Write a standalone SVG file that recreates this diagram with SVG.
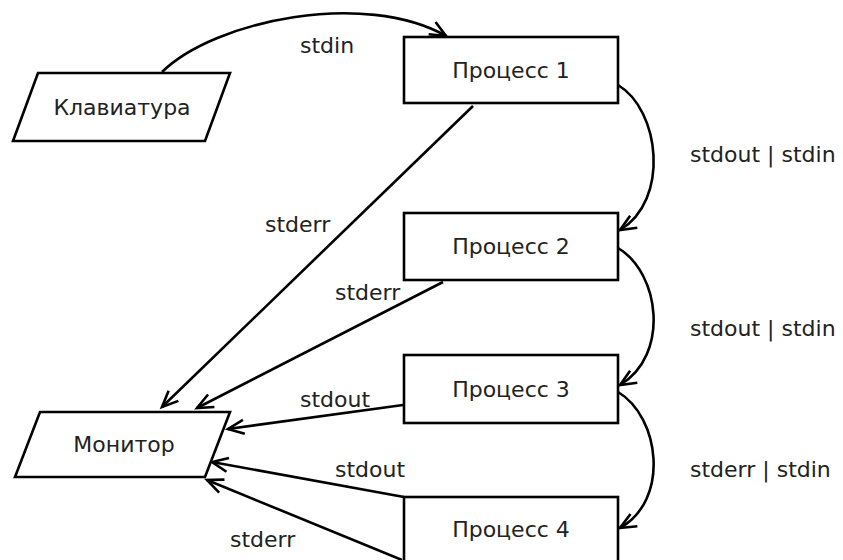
<svg xmlns="http://www.w3.org/2000/svg" width="843" height="560" viewBox="0 0 843 560">
<defs>
<style>
.box{fill:#fff;stroke:#000;stroke-width:2.6}
.t{font-family:"DejaVu Sans",sans-serif;font-size:22px;fill:#222}
.c{text-anchor:middle}
.e{fill:none;stroke:#000;stroke-width:2.6;marker-end:url(#arr)}
</style>
<marker id="arr" markerUnits="userSpaceOnUse" markerWidth="40" markerHeight="40" refX="0" refY="0" viewBox="-20 -20 40 40" orient="auto" overflow="visible">
<path d="M-16,-7 L0,0 L-16,7" fill="none" stroke="#000" stroke-width="2.6"/>
</marker>
</defs>
<rect width="843" height="560" fill="#fff"/>
<g id="edges">
<path class="e" d="M162,72 C215,20 365,-10 446,36"/>
<path class="e" d="M618,85 C660,110 670,200 620,230"/>
<path class="e" d="M618,248 C660,273 670,355 620,385"/>
<path class="e" d="M618,392 C660,417 670,500 620,528"/>
<path class="e" d="M473,106 L162,407"/>
<path class="e" d="M443,282 L197,408"/>
<path class="e" d="M403,405 L228,429"/>
<path class="e" d="M404,497 L212,462"/>
<path class="e" d="M402,560 L207,480"/>
</g>
<g id="labels">
<text class="t" x="300" y="53">stdin</text>
<text class="t" x="690" y="162">stdout | stdin</text>
<text class="t" x="690" y="336">stdout | stdin</text>
<text class="t" x="690" y="477">stderr | stdin</text>
<text class="t" x="265" y="232">stderr</text>
<text class="t" x="335" y="300">stderr</text>
<text class="t" x="300" y="407">stdout</text>
<text class="t" x="335" y="477">stdout</text>
<text class="t" x="230" y="547">stderr</text>
</g>
<g id="keyboard">
<polygon class="box" points="38,73 230,73 205,141 13,141"/>
<text class="t c" x="122" y="115">Клавиатура</text>
</g>
<g id="monitor">
<polygon class="box" points="40,412 230,412 205,477 15,477"/>
<text class="t c" x="124" y="452">Монитор</text>
</g>
<g id="p1">
<rect class="box" x="404" y="37" width="214" height="66"/>
<text class="t c" x="511" y="78">Процесс 1</text>
</g>
<g id="p2">
<rect class="box" x="404" y="213" width="214" height="67"/>
<text class="t c" x="511" y="254">Процесс 2</text>
</g>
<g id="p3">
<rect class="box" x="404" y="355" width="214" height="68"/>
<text class="t c" x="511" y="397">Процесс 3</text>
</g>
<g id="p4">
<rect class="box" x="404" y="497" width="214" height="68"/>
<text class="t c" x="511" y="537">Процесс 4</text>
</g>
</svg>
